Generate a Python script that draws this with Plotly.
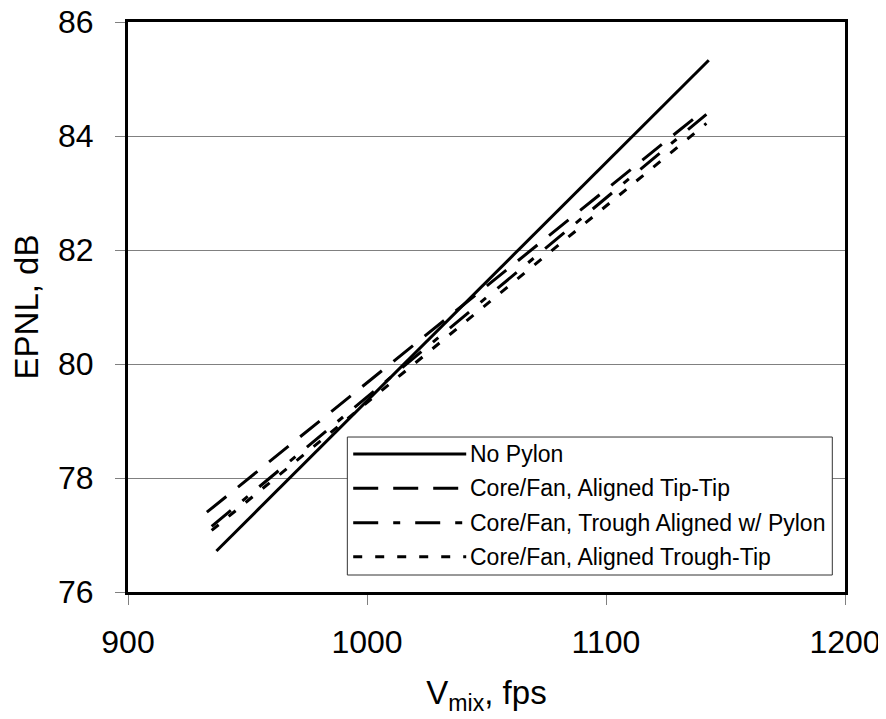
import plotly.graph_objects as go

# ---- data ----
series_names = [
    "No Pylon",
    "Core/Fan, Aligned Tip-Tip",
    "Core/Fan, Trough Aligned w/ Pylon",
    "Core/Fan, Aligned Trough-Tip",
]
vmix_no_pylon = [937, 1143]
epnl_no_pylon = [76.72, 85.33]
vmix_tip_tip = [933, 1141]
epnl_tip_tip = [77.40, 84.45]
vmix_trough_pylon = [935, 1142]
epnl_trough_pylon = [77.15, 84.38]
vmix_trough_tip = [935, 1142]
epnl_trough_tip = [77.08, 84.22]

x_ticks = [900, 1000, 1100, 1200]
y_ticks = [76, 78, 80, 82, 84, 86]

xs = [vmix_no_pylon, vmix_tip_tip, vmix_trough_pylon, vmix_trough_tip]
ys = [epnl_no_pylon, epnl_tip_tip, epnl_trough_pylon, epnl_trough_tip]
dashes = ["solid", "25px,15px", "25px,15px,7px,15px", "9px,13px"]

FONT = "Arial, Liberation Sans, sans-serif"

fig = go.Figure()
for name, x, y, d in zip(series_names, xs, ys, dashes):
    fig.add_trace(go.Scatter(x=x, y=y, mode="lines", name=name,
                             line=dict(color="black", width=3, dash=d),
                             showlegend=False))

# custom legend (long line samples like the original)
shapes = [dict(type="rect", xref="paper", yref="paper",
               x0=0.3059, x1=0.9823, y0=0.0298, y1=0.2719,
               line=dict(color="#333333", width=1), fillcolor="white",
               layer="above")]
annotations = []
row_y = [0.2421, 0.1819, 0.1216, 0.0619]
for name, d, ry in zip(series_names, dashes, row_y):
    shapes.append(dict(type="line", xref="paper", yref="paper",
                       x0=0.3141, x1=0.4717, y0=ry, y1=ry,
                       line=dict(color="black", width=3, dash=d),
                       layer="above"))
    annotations.append(dict(xref="paper", yref="paper", x=0.4746, y=ry,
                            xanchor="left", yanchor="middle", text=name,
                            showarrow=False,
                            font=dict(family=FONT, size=23, color="black")))

# the page body has an 8px margin, so the figure is sized/offset to compensate
fig.update_layout(
    width=878, height=711,
    margin=dict(l=120, r=41, t=14, b=127),
    paper_bgcolor="white", plot_bgcolor="white",
    font=dict(family=FONT, size=32, color="black"),
    shapes=shapes, annotations=annotations,
    showlegend=False,
)
fig.update_xaxes(
    range=[900, 1200], tickvals=x_ticks, ticktext=[str(v) for v in x_ticks],
    showgrid=False, zeroline=False, automargin=False,
    showline=True, linecolor="black", linewidth=3, mirror=True,
    ticks="outside", ticklen=10, tickwidth=1, tickcolor="#808080",
    ticklabelstandoff=10, ticklabeloverflow="allow",
    title=dict(text="V<sub>mix</sub>, fps", font=dict(size=33), standoff=22),
)
fig.update_yaxes(
    range=[76, 86], tickvals=y_ticks, ticktext=[str(v) for v in y_ticks],
    showgrid=True, gridcolor="#808080", gridwidth=1, zeroline=False,
    automargin=False,
    showline=True, linecolor="black", linewidth=3, mirror=True,
    ticks="outside", ticklen=10, tickwidth=1, tickcolor="#808080",
    ticklabelstandoff=15, ticklabeloverflow="allow",
    title=dict(text="EPNL, dB", font=dict(size=33), standoff=10),
)

fig.write_html("out.html")
